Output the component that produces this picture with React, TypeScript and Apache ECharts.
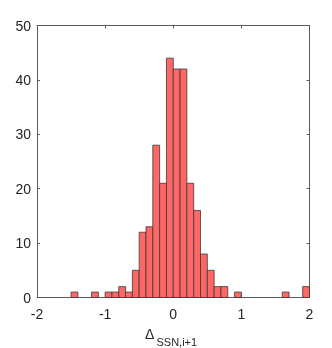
import React, { useEffect, useRef } from "react";
import * as echarts from "echarts";

const binLeft = [-1.5, -1.2, -1.0, -0.9, -0.8, -0.7, -0.6, -0.5, -0.4, -0.3, -0.2, -0.1, 0, 0.1, 0.2, 0.3, 0.4, 0.5, 0.6, 0.7, 0.9, 1.6, 1.9];
const counts = [1, 1, 1, 1, 2, 1, 5, 12, 13, 28, 21, 44, 42, 42, 21, 16, 8, 5, 2, 2, 1, 1, 2];
const binWidth = 0.1;
const xTicks = [-2, -1, 0, 1, 2];
const yTicks = [0, 10, 20, 30, 40, 50];
const xLabelMain = "Δ";
const xLabelSub = "SSN,i+1";

const FONT = "Liberation Sans, Arial, Helvetica, sans-serif";
const AXIS_COLOR = "#5c5c5c";
const TEXT_COLOR = "#262626";

export default function App() {
  const ref = useRef<HTMLDivElement>(null);
  useEffect(() => {
    if (!ref.current) return;
    const chart = echarts.init(ref.current, undefined, { renderer: "svg" });
    const data = binLeft.map((x, i) => [x, x + binWidth, counts[i]]);
    const axisCommon = {
      type: "value" as const,
      axisLine: { show: true, onZero: false, lineStyle: { color: AXIS_COLOR, width: 1 } },
      axisTick: { show: true, inside: true, length: 3, lineStyle: { color: AXIS_COLOR } },
      splitLine: { show: false },
    };
    chart.setOption({
      animation: false,
      grid: { left: 37, top: 25.5, right: 22.5, bottom: 50.5, containLabel: false },
      xAxis: [
        {
          ...axisCommon,
          position: "bottom",
          min: xTicks[0],
          max: xTicks[xTicks.length - 1],
          interval: 1,
          axisLabel: { color: TEXT_COLOR, fontSize: 14, fontFamily: FONT, margin: 9 },
        },
        {
          ...axisCommon,
          position: "top",
          min: xTicks[0],
          max: xTicks[xTicks.length - 1],
          interval: 1,
          axisLabel: { show: false },
        },
      ],
      yAxis: [
        {
          ...axisCommon,
          position: "left",
          min: yTicks[0],
          max: yTicks[yTicks.length - 1],
          interval: 10,
          axisLabel: { color: TEXT_COLOR, fontSize: 14, fontFamily: FONT, margin: 6 },
        },
        {
          ...axisCommon,
          position: "right",
          min: yTicks[0],
          max: yTicks[yTicks.length - 1],
          interval: 10,
          axisLabel: { show: false },
        },
      ],
      series: [
        {
          type: "custom",
          xAxisIndex: 0,
          yAxisIndex: 0,
          data,
          encode: { x: [0, 1], y: 2 },
          renderItem: (params: any, api: any) => {
            const p0 = api.coord([api.value(0), api.value(2)]);
            const p1 = api.coord([api.value(1), 0]);
            return {
              type: "rect",
              shape: { x: p0[0], y: p0[1], width: p1[0] - p0[0], height: p1[1] - p0[1] },
              style: { fill: "#ff6666", stroke: "#3a3a3a", lineWidth: 0.8 },
            };
          },
        },
      ],
      graphic: [
        {
          type: "text",
          left: 145,
          top: 327,
          style: { text: xLabelMain, fontSize: 14, fontFamily: FONT, fill: TEXT_COLOR },
        },
        {
          type: "text",
          left: 156.5,
          top: 336,
          style: { text: xLabelSub, fontSize: 11, fontFamily: FONT, fill: TEXT_COLOR },
        },
      ],
    });
    return () => chart.dispose();
  }, []);
  return (
    <div
      ref={ref}
      style={{ position: "fixed", left: 0, top: 0, width: 332, height: 348 }}
    />
  );
}
